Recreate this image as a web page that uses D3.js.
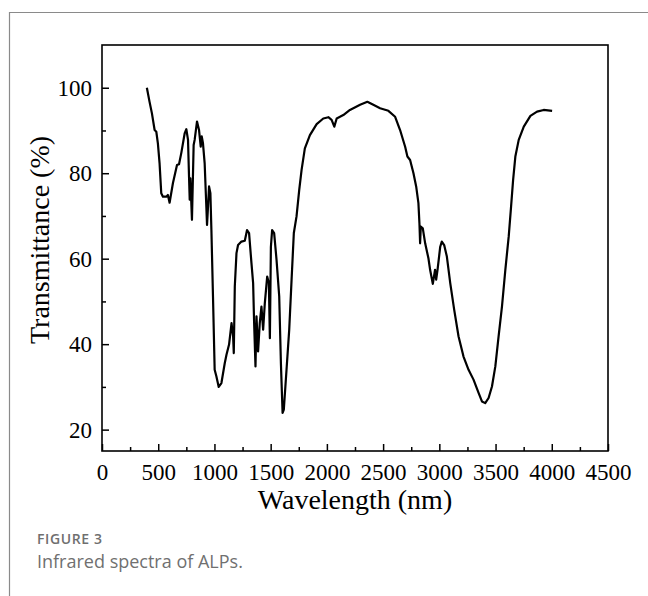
<!DOCTYPE html>
<html>
<head>
<meta charset="utf-8">
<script src="https://cdn.jsdelivr.net/npm/d3@7"></script>
<style>
  body { margin: 0; background: #fff; }
  svg { display: block; }
</style>
</head>
<body>
<div id="chart"></div>
<script>
// wavelength (nm)
const wavelength = [
  399, 423, 444, 468, 483, 497, 512, 527, 542, 572,
  586, 601, 631, 667, 685, 705, 735, 750, 765, 774,
  780, 786, 800, 815, 824, 845, 863, 878, 887, 898,
  913, 929, 934, 943, 952, 964, 973, 987, 1002, 1017,
  1038, 1062, 1092, 1107, 1130, 1152, 1166, 1172, 1181, 1196,
  1210, 1240, 1270, 1290, 1308, 1329, 1344, 1353, 1365, 1374,
  1388, 1403, 1418, 1433, 1448, 1469, 1484, 1493, 1502, 1513,
  1531, 1552, 1576, 1591, 1606, 1617, 1641, 1665, 1686, 1706,
  1730, 1754, 1775, 1804, 1849, 1909, 1968, 2013, 2042, 2066,
  2087, 2146, 2205, 2295, 2360, 2413, 2473, 2547, 2607, 2651,
  2696, 2716, 2740, 2770, 2794, 2814, 2823, 2829, 2835, 2853,
  2874, 2903, 2918, 2942, 2962, 2972, 2984, 3008, 3022, 3043,
  3067, 3097, 3132, 3171, 3215, 3260, 3304, 3349, 3379, 3408,
  3438, 3468, 3498, 3527, 3557, 3587, 3617, 3638, 3656, 3676,
  3706, 3751, 3810, 3869, 3928, 4003
];

// transmittance (%)
const transmittance = [
  100, 96.7, 94, 90.1, 89.7, 87, 82.3, 75.3, 74.5, 74.5,
  74.9, 73.1, 77.7, 81.9, 82.1, 84.7, 89.3, 90.3, 87.8, 79.2,
  73.8, 78.8, 69.1, 86.6, 87.8, 92.1, 90.1, 86.2, 88.6, 87,
  82.3, 71.4, 67.9, 72.2, 76.9, 75.3, 66.7, 51.2, 34, 32.5,
  30, 30.9, 35.6, 37.5, 39.9, 44.9, 41.8, 37.9, 53.5, 61.3,
  63.2, 64, 64.2, 66.7, 66, 59, 54.3, 44.9, 34.8, 46.5,
  38.3, 44.9, 48.8, 43.4, 49.6, 55.8, 54.3, 41.4, 62.8, 66.7,
  66, 59.8, 51.2, 35.6, 23.9, 24.7, 34, 43.4, 55.1, 66,
  69.9, 76.1, 80.8, 85.8, 88.9, 91.5, 92.8, 93.1, 92.5, 90.9,
  92.8, 93.6, 94.8, 96, 96.7, 96, 95.2, 94.6, 93.2, 90.1,
  86.2, 83.9, 83.1, 80, 76.9, 73, 68.3, 63.6, 67.5, 67.1,
  63.6, 60.1, 57.4, 54.1, 57.4, 55.1, 57.4, 62.8, 64, 63.2,
  60.5, 54.3, 48.1, 41.8, 37.1, 34, 31.7, 28.6, 26.6, 26.2,
  27.4, 30.1, 34.8, 41.8, 48.8, 57.4, 65.2, 72.2, 78.4, 83.9,
  87.8, 90.9, 93.4, 94.4, 94.8, 94.6
];

const xTicks = [0, 500, 1000, 1500, 2000, 2500, 3000, 3500, 4000, 4500];
const xMinorTicks = [250, 750, 1250, 1750, 2250, 2750, 3250, 3750, 4250];
const yTicks = [20, 40, 60, 80, 100];
const yMinorTicks = [30, 50, 70, 90];

const xLabel = "Wavelength (nm)";
const yLabel = "Transmittance (%)";
const figTitle = "FIGURE 3";
const figCaption = "Infrared spectra of ALPs.";

const W = 648, H = 596;
const margin = { top: 45, right: 40, bottom: 145, left: 102 };
const width = W - margin.left - margin.right;
const height = H - margin.top - margin.bottom;

const root = d3.select("#chart").append("svg").attr("width", W).attr("height", H);

// outer figure frame (left + top only)
root.append("path")
  .attr("d", `M9.5,${H} L9.5,12.5 L${W},12.5`)
  .attr("fill", "none")
  .attr("stroke", "#8a8a8a")
  .attr("stroke-width", 1.2);

const svg = root.append("g").attr("transform", `translate(${margin.left},${margin.top})`);

const x = d3.scaleLinear().domain([0, 4500]).range([0, width]);
const y = d3.scaleLinear().domain([15, 110]).range([height, 0]);

const serif = "'Liberation Serif', 'Times New Roman', serif";

// x axis (ticks point inward)
svg.append("g")
  .attr("transform", `translate(0,${height})`)
  .call(d3.axisBottom(x).tickValues(xTicks).tickFormat(d3.format("d")).tickSize(-7).tickPadding(13));
svg.append("g")
  .attr("transform", `translate(0,${height})`)
  .call(d3.axisBottom(x).tickValues(xMinorTicks).tickFormat("").tickSize(-4));

// y axis
svg.append("g")
  .call(d3.axisLeft(y).tickValues(yTicks).tickFormat(d3.format("d")).tickSize(-7).tickPadding(10));
svg.append("g")
  .call(d3.axisLeft(y).tickValues(yMinorTicks).tickFormat("").tickSize(-4));

svg.selectAll(".domain").remove();
svg.selectAll(".tick line").attr("stroke", "#000").attr("stroke-width", 1.5);
svg.selectAll(".tick text")
  .attr("font-family", serif)
  .style("font-family", serif)
  .style("font-size", "23px")
  .attr("fill", "#000");

// plot frame
svg.append("rect")
  .attr("x", 0).attr("y", 0)
  .attr("width", width).attr("height", height)
  .attr("fill", "none")
  .attr("stroke", "#000")
  .attr("stroke-width", 1.6);

// spectrum
svg.append("path")
  .datum(wavelength)
  .attr("fill", "none")
  .attr("stroke", "#000")
  .attr("stroke-width", 2.2)
  .attr("stroke-linejoin", "round")
  .attr("d", d3.line().x((d) => x(d)).y((d, i) => y(transmittance[i])));

// axis labels
svg.append("text")
  .attr("x", width / 2)
  .attr("y", height + 58)
  .style("text-anchor", "middle")
  .style("font-family", serif)
  .style("font-size", "28px")
  .text(xLabel);

svg.append("text")
  .attr("transform", "rotate(-90)")
  .attr("x", -height / 2 + 8)
  .attr("y", -53)
  .style("text-anchor", "middle")
  .style("font-family", serif)
  .style("font-size", "28px")
  .text(yLabel);

// caption
root.append("text")
  .attr("x", 37).attr("y", 544)
  .style("font-family", "'Open Sans', sans-serif")
  .style("font-weight", 600)
  .style("font-size", "14px")
  .style("letter-spacing", "0.6px")
  .attr("fill", "#6f6f6f")
  .text(figTitle);

root.append("text")
  .attr("x", 37).attr("y", 568)
  .style("font-family", "'Open Sans', sans-serif")
  .style("font-size", "18px")
  .attr("fill", "#707070")
  .text(figCaption);
</script>
</body>
</html>
